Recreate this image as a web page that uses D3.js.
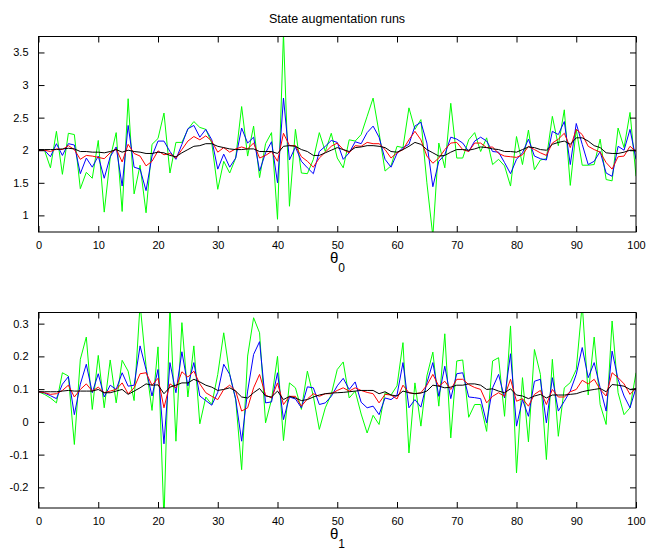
<!DOCTYPE html>
<html><head><meta charset="utf-8">
<script src="https://cdn.jsdelivr.net/npm/d3@7"></script>
<style>body{margin:0;background:#fff;}svg{display:block;}text{font-family:"Liberation Sans",Arial,Helvetica,sans-serif;}</style>
</head><body><svg id="c" width="650" height="550"></svg>
<script>
const title = "State augmentation runs";
const xs = d3.range(0, 101);
const xTicks = [0,10,20,30,40,50,60,70,80,90,100];
const yTicks0 = [1,1.5,2,2.5,3,3.5];
const yTicks1 = [-0.2,-0.1,0,0.1,0.2,0.3];
const seriesNames = ["green","blue","red","black"];
const seriesColors = ["#00ff00","#0000ff","#ff0000","#000000"];

// theta_0 runs
const g0 = [2.00,2.00,1.73,2.29,1.63,2.26,2.24,1.41,1.66,1.57,2.15,1.05,1.88,2.27,1.06,2.79,1.33,1.77,1.04,2.09,2.18,
 2.57,1.65,2.12,2.12,2.32,2.44,2.35,2.32,2.11,1.40,1.83,1.65,1.88,2.67,1.91,2.37,1.58,2.10,2.27,0.94,
 3.80,1.14,2.32,1.65,1.64,1.86,2.27,1.98,2.26,1.88,1.73,2.16,2.14,2.24,2.52,2.80,2.27,1.68,1.76,2.06,
 2.04,2.65,2.32,2.47,1.50,0.68,2.11,1.73,2.72,1.88,1.88,2.16,2.27,1.98,2.19,1.78,1.86,1.76,1.45,2.21,
 1.78,2.31,1.70,1.85,1.87,2.52,2.07,2.62,1.46,2.32,1.77,1.77,1.78,2.17,1.55,1.53,2.34,2.04,2.58,1.60];
const b0 = [2.00,2.00,1.90,2.10,1.92,2.10,2.08,1.64,1.88,1.74,1.91,1.57,1.90,2.05,1.45,2.38,1.74,1.71,1.38,1.91,2.14,
 2.14,1.98,1.86,2.09,2.33,2.38,2.20,2.32,2.16,1.71,1.94,1.74,1.88,2.34,2.11,2.20,1.68,1.96,2.13,1.50,
 2.80,1.85,2.05,1.83,1.73,1.64,1.98,2.06,2.15,2.12,1.86,1.96,2.13,2.10,2.27,2.37,2.20,1.86,1.74,1.95,
 2.04,2.09,2.37,2.43,2.11,1.44,1.83,1.93,2.20,2.17,2.11,1.98,2.14,2.20,2.14,1.98,1.97,1.81,1.64,1.86,
 1.96,2.17,1.91,1.87,1.85,2.29,2.24,2.44,1.78,2.41,2.09,1.78,1.83,1.98,1.65,1.60,2.06,2.00,2.32,1.86];
const r0 = [2.00,2.00,1.98,2.02,2.01,2.07,2.01,1.86,1.92,1.91,1.89,1.87,1.96,2.02,1.82,2.09,1.95,1.91,1.76,1.83,1.99,
 1.93,1.95,1.88,2.01,2.14,2.21,2.16,2.22,2.14,1.97,2.04,1.97,2.02,2.05,2.02,2.11,1.88,1.92,1.98,1.83,
 2.26,2.07,2.07,1.90,1.83,1.74,1.88,1.97,2.06,2.11,2.01,1.96,2.07,2.06,2.12,2.10,2.10,2.01,1.88,1.96,
 2.01,2.16,2.29,2.16,1.91,1.80,1.88,2.01,2.11,2.12,2.01,1.98,2.11,2.11,2.04,2.05,1.95,1.91,1.90,1.89,
 1.93,2.06,2.01,1.96,1.92,2.11,2.17,2.26,2.04,2.32,2.24,2.06,2.01,1.97,1.81,1.71,1.90,1.91,2.06,1.98];
const k0 = [2.01,2.01,2.01,2.01,2.02,2.03,2.02,1.98,1.98,1.97,1.97,1.96,1.98,2.01,1.97,2.00,1.98,1.97,1.95,1.95,1.97,
 1.96,1.92,1.90,1.96,2.01,2.06,2.07,2.10,2.10,2.06,2.04,2.02,2.01,2.01,2.02,2.02,1.98,1.98,1.98,1.95,
 2.06,2.07,2.06,2.01,1.98,1.92,1.92,1.96,2.00,2.04,2.01,1.98,2.04,2.05,2.07,2.07,2.06,2.04,1.98,1.97,
 2.01,2.06,2.12,2.09,2.01,1.96,1.91,1.92,1.97,2.01,2.01,2.00,2.02,2.05,2.04,2.02,2.01,1.98,1.98,1.97,
 2.01,2.05,2.04,2.01,2.00,2.09,2.12,2.14,2.09,2.19,2.19,2.14,2.07,2.04,1.96,1.95,1.95,1.97,2.00,2.00];

// theta_1 runs
const g1 = [0.092,0.084,0.073,0.058,0.150,0.140,-0.069,0.191,0.259,0.038,0.203,0.043,0.189,0.058,0.188,0.155,0.065,0.36,0.17,0.035,0.229,
 -0.30,0.36,-0.059,0.303,0.076,0.232,-0.006,0.076,0.053,0.145,0.272,0.145,0.068,-0.146,0.201,0.318,0.272,-0.003,0.068,0.200,
 -0.057,0.119,0.104,0.038,0.155,0.078,-0.023,0.043,0.084,0.160,0.183,0.073,0.094,0.024,-0.034,0.020,-0.008,0.089,0.082,0.110,
 0.242,-0.095,0.119,-0.013,0.140,0.213,0.048,0.269,-0.049,0.186,0.189,0.014,0.053,0.053,-0.029,0.186,0.196,0.017,0.293,-0.156,
 0.135,-0.061,0.221,0.145,-0.115,0.191,-0.044,0.104,0.12,0.16,0.36,0.082,0.259,0.053,-0.008,0.308,0.089,0.022,0.043,0.150];
const b1 = [0.092,0.088,0.080,0.071,0.115,0.138,0.022,0.115,0.176,0.089,0.147,0.076,0.112,0.099,0.150,0.109,0.112,0.232,0.160,0.079,0.160,
 -0.067,0.181,0.089,0.214,0.110,0.181,0.079,0.065,0.051,0.090,0.176,0.145,0.070,-0.059,0.094,0.206,0.245,0.058,0.061,0.150,
 0.007,0.076,0.070,0.043,0.107,0.104,0.053,0.058,0.078,0.110,0.133,0.099,0.122,0.060,0.043,0.048,0.022,0.073,0.068,0.082,
 0.181,0.043,0.068,0.045,0.119,0.181,0.078,0.170,0.071,0.147,0.150,0.076,0.074,0.071,-0.003,0.104,0.145,0.073,0.208,-0.013,
 0.068,0.017,0.124,0.130,-0.003,0.135,0.033,0.063,0.094,0.145,0.227,0.135,0.181,0.104,0.033,0.216,0.130,0.079,0.043,0.104];
const r1 = [0.092,0.089,0.084,0.086,0.096,0.112,0.076,0.099,0.116,0.094,0.106,0.089,0.094,0.099,0.119,0.086,0.104,0.147,0.150,0.112,0.133,
 0.043,0.116,0.104,0.153,0.137,0.155,0.116,0.089,0.078,0.068,0.099,0.112,0.094,0.033,0.043,0.104,0.145,0.082,0.073,0.119,
 0.053,0.078,0.078,0.048,0.070,0.086,0.078,0.086,0.086,0.096,0.104,0.094,0.104,0.096,0.090,0.086,0.058,0.084,0.082,0.070,
 0.112,0.089,0.086,0.089,0.112,0.145,0.109,0.124,0.099,0.130,0.130,0.114,0.105,0.099,0.058,0.078,0.089,0.078,0.130,0.063,
 0.071,0.048,0.084,0.096,0.053,0.099,0.076,0.076,0.092,0.099,0.127,0.116,0.130,0.099,0.079,0.150,0.135,0.116,0.084,0.104];
const k1 = [0.092,0.092,0.092,0.092,0.094,0.096,0.094,0.094,0.094,0.094,0.099,0.089,0.089,0.094,0.099,0.084,0.094,0.104,0.116,0.112,0.113,
 0.086,0.106,0.112,0.119,0.119,0.130,0.122,0.112,0.106,0.096,0.099,0.104,0.094,0.076,0.073,0.089,0.102,0.079,0.076,0.094,
 0.068,0.078,0.073,0.065,0.068,0.076,0.082,0.086,0.088,0.089,0.090,0.092,0.094,0.096,0.096,0.096,0.086,0.092,0.082,0.079,
 0.094,0.089,0.086,0.088,0.094,0.112,0.109,0.104,0.106,0.112,0.112,0.116,0.116,0.112,0.099,0.101,0.094,0.089,0.101,0.082,
 0.079,0.071,0.079,0.084,0.073,0.082,0.082,0.082,0.084,0.086,0.092,0.096,0.099,0.102,0.092,0.114,0.112,0.109,0.099,0.102];

const svg = d3.select("#c");
const L = 38.5, R = 636;

svg.append("text").attr("x", 337).attr("y", 23).attr("text-anchor","middle")
  .attr("font-size", 12.5).text(title);

function panel(id, top, bottom, yDomain, yTicks, series, sub) {
  const x = d3.scaleLinear().domain([0,100]).range([L, R]);
  const y = d3.scaleLinear().domain(yDomain).range([bottom, top]);
  const g = svg.append("g");
  g.append("clipPath").attr("id", id).append("rect")
    .attr("x", L).attr("y", top).attr("width", R-L).attr("height", bottom-top);
  const line = d3.line().x((d,i)=>x(xs[i])).y(d=>y(d));
  const lg = g.append("g").attr("clip-path", `url(#${id})`);
  series.forEach((s, j) => {
    lg.append("path").datum(s).attr("d", line).attr("fill","none")
      .attr("stroke", seriesColors[j]).attr("stroke-width", 1);
  });
  const tl = 6;
  const ax = (gen, tr, labels) => {
    const a = g.append("g").attr("transform", tr).call(gen);
    a.select(".domain").remove();
    a.selectAll("line").attr("stroke","#000");
    if (!labels) a.selectAll("text").remove();
    else a.selectAll("text").attr("font-size", 11).attr("fill","#000").attr("font-family","Liberation Sans, Arial, sans-serif");
    return a;
  };
  ax(d3.axisBottom(x).tickValues(xTicks).tickSize(-tl).tickPadding(tl+3).tickFormat(d3.format("d")), `translate(0,${bottom})`, true);
  ax(d3.axisTop(x).tickValues(xTicks).tickSize(-tl), `translate(0,${top})`, false);
  ax(d3.axisLeft(y).tickValues(yTicks).tickSize(-tl).tickPadding(tl+4).tickFormat(d=>String(+d.toFixed(2))), `translate(${L},0)`, true);
  ax(d3.axisRight(y).tickValues(yTicks).tickSize(-tl), `translate(${R},0)`, false);
  g.append("rect").attr("x", L).attr("y", top).attr("width", R-L).attr("height", bottom-top)
    .attr("fill","none").attr("stroke","#000").attr("stroke-width",1);
  const lab = g.append("text").attr("x", 330).attr("y", bottom + 31).attr("font-size", 15);
  lab.append("tspan").text("θ");
  lab.append("tspan").attr("dy", 9).attr("font-size", 12).text(sub);
}

panel("clip0", 36.5, 232, [0.745, 3.745], yTicks0, [g0, b0, r0, k0], "0");
panel("clip1", 312.5, 508, [-0.263, 0.334], yTicks1, [g1, b1, r1, k1], "1");
</script></body></html>
